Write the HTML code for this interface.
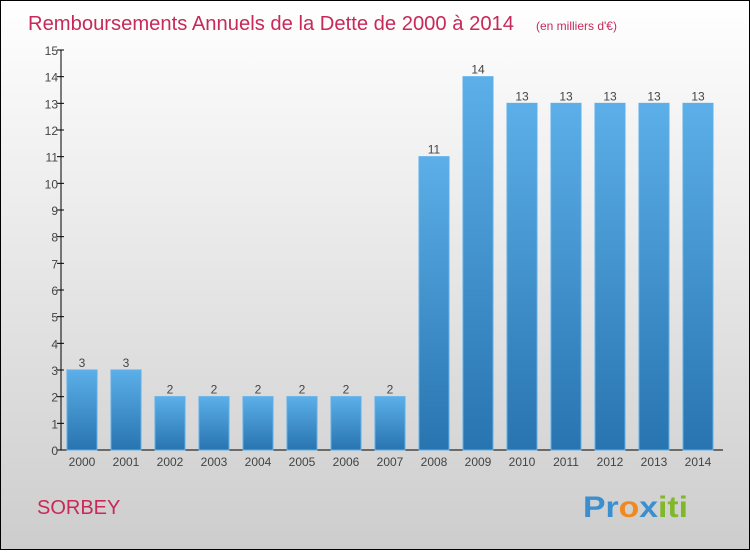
<!DOCTYPE html>
<html><head><meta charset="utf-8"><style>
body{margin:0;width:750px;height:550px;overflow:hidden}
#c{width:748px;height:548px;border:1px solid #000;background:linear-gradient(#ffffff,#cdcdcd);position:relative;font-family:"Liberation Sans",sans-serif}
</style></head><body>
<div id="c">
<svg width="748" height="548" id="svg">
<defs><linearGradient id="bg" x1="0" y1="0" x2="0" y2="1"><stop offset="0" stop-color="#5cafe8"/><stop offset="1" stop-color="#2874b0"/></linearGradient></defs>
<text x="27" y="29" font-size="20" fill="#c8285a" textLength="486" lengthAdjust="spacingAndGlyphs">Remboursements Annuels de la Dette de 2000 à 2014</text>
<text x="535" y="29" font-size="12" fill="#c8285a">(en milliers d'€)</text>
<text x="36" y="513" font-size="20" fill="#c8285a">SORBEY</text>
<g font-size="30" font-weight="bold"><text x="582" y="516" textLength="105" lengthAdjust="spacingAndGlyphs"><tspan fill="#3a8fd0">Pr</tspan><tspan fill="#f08a20">o</tspan><tspan fill="#3a8fd0">x</tspan><tspan fill="#80b828">iti</tspan></text></g>
<g id="plot"></g>
</svg></div>
<script>
const years=["2000","2001","2002","2003","2004","2005","2006","2007","2008","2009","2010","2011","2012","2013","2014"];
const values=[3,3,2,2,2,2,2,2,11,14,13,13,13,13,13];
const yTicks=[0,1,2,3,4,5,6,7,8,9,10,11,12,13,14,15];
const ns="http://www.w3.org/2000/svg",g=document.getElementById('plot');
const y0=449,yTop=49,ax=60;
const y=v=>y0-(y0-yTop)*v/15, x=i=>81+44*i;
function mk(t,a,p){const e=document.createElementNS(ns,t);for(const k in a)e.setAttribute(k,a[k]);(p||g).appendChild(e);return e;}
let e=mk('line',{x1:ax,y1:yTop,x2:ax,y2:y0,stroke:'#000'});


e=mk('line',{x1:ax,y1:y0,x2:722,y2:y0,stroke:'#000'});


yTicks.forEach(t=>{
 mk('line',{x1:ax-4,y1:y(t),x2:ax+3,y2:y(t),stroke:'#000'});
 e=mk('text',{x:ax-3,y:y(t)+5,'font-size':12,fill:'#444','text-anchor':'end'});e.textContent=t;
 
 
});
values.forEach((v,i)=>{
 e=mk('rect',{x:x(i)-15,y:y(v),width:30,height:y0-y(v),fill:'url(#bg)',stroke:'#5cb0ea','stroke-width':1});
 
 
 e=mk('text',{x:x(i),y:y(v)-3,'font-size':12,fill:'#444','text-anchor':'middle'});e.textContent=v;
 
 
 e=mk('text',{x:x(i),y:y0+16,'font-size':12,fill:'#444','text-anchor':'middle'});e.textContent=years[i];
 
 
});
</script>
</body></html>
